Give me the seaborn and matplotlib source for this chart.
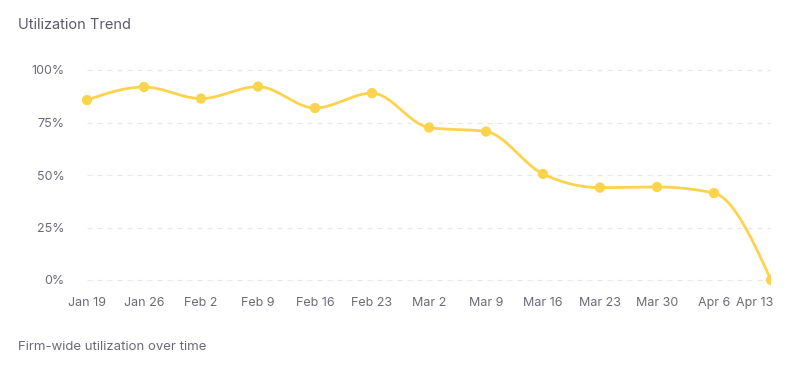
import numpy as np
import pandas as pd
import matplotlib
matplotlib.use("Agg")
import matplotlib.pyplot as plt
import matplotlib.transforms as mtrans
from matplotlib.patches import Rectangle
import seaborn as sns

weeks = ["Jan 19", "Jan 26", "Feb 2", "Feb 9", "Feb 16", "Feb 23", "Mar 2",
         "Mar 9", "Mar 16", "Mar 23", "Mar 30", "Apr 6", "Apr 13"]
utilization = [85.7, 91.9, 86.4, 92.1, 81.9, 89.0, 72.6, 70.7, 50.5, 44.0, 44.3, 41.4, 0.0]
y_ticks = [0, 25, 50, 75, 100]
y_tick_labels = ["0%", "25%", "50%", "75%", "100%"]

LINE = "#FCD34D"

sns.set_theme(style="white")
plt.rcParams["font.family"] = ["Inter", "DejaVu Sans"]


def monotone_curve(x, y, n=40):
    # d3 curveMonotoneX style tangents, used only to render the smooth line
    x = np.asarray(x, float); y = np.asarray(y, float)
    h = np.diff(x); s = np.diff(y) / h
    m = np.zeros_like(y)
    for i in range(1, len(y) - 1):
        p = (s[i - 1] * h[i] + s[i] * h[i - 1]) / (h[i - 1] + h[i])
        m[i] = (np.sign(s[i - 1]) + np.sign(s[i])) * min(abs(s[i - 1]), abs(s[i]), 0.5 * abs(p))
    m[0] = (3 * s[0] - m[1]) / 2
    m[-1] = (3 * s[-1] - m[-2]) / 2
    xs, ys = [], []
    for i in range(len(x) - 1):
        t = np.linspace(0, 1, n, endpoint=(i == len(x) - 2))
        h00 = 2 * t**3 - 3 * t**2 + 1
        h10 = t**3 - 2 * t**2 + t
        h01 = -2 * t**3 + 3 * t**2
        h11 = t**3 - t**2
        xs.append(x[i] + t * h[i])
        ys.append(h00 * y[i] + h10 * h[i] * m[i] + h01 * y[i + 1] + h11 * h[i] * m[i + 1])
    return np.concatenate(xs), np.concatenate(ys)


df = pd.DataFrame({"pos": np.arange(len(weeks)), "util": utilization})
cx, cy = monotone_curve(df["pos"], df["util"])
curve = pd.DataFrame({"pos": cx, "util": cy})

fig = plt.figure(figsize=(7.93, 3.76), dpi=100)
ax = fig.add_axes([87 / 793, 1 - 280 / 376, (771 - 87) / 793, 210 / 376])

for yt in y_ticks:
    ax.axhline(yt, color="#e8e8e8", lw=0.9, ls=(0, (4, 4)), zorder=0)

sns.lineplot(data=curve, x="pos", y="util", ax=ax, color=LINE, lw=2.0, zorder=2)
sns.scatterplot(data=df, x="pos", y="util", ax=ax, color=LINE, s=55,
                edgecolor="none", zorder=3)

clip = Rectangle((0, 0), 771 / 793, 1, transform=fig.transFigure, visible=False)
fig.add_artist(clip)
for coll in ax.collections:
    coll.set_clip_path(clip)
for ln in ax.lines:
    ln.set_clip_path(clip)

ax.set_xlim(0, len(weeks) - 1)
ax.set_ylim(0, 100)
ax.set_xticks(df["pos"])
ax.set_xticklabels(weeks)
ax.set_yticks(y_ticks)
ax.set_yticklabels(y_tick_labels)
ax.set_xlabel(""); ax.set_ylabel("")
ax.tick_params(axis="x", length=0, pad=12, labelsize=9, labelcolor="#6b6b78")
ax.tick_params(axis="y", length=0, pad=16, labelsize=9, labelcolor="#6b6b78")
xt = ax.get_xticklabels()
xt[-1].set_horizontalalignment("right")
xt[-1].set_transform(xt[-1].get_transform() + mtrans.ScaledTranslation(2 / 100, 0, fig.dpi_scale_trans))
for sp in ax.spines.values():
    sp.set_visible(False)
ax.grid(False)

fig.text(18 / 793, 1 - 25 / 376, "Utilization Trend", fontsize=10.5, color="#5a5a66",
         va="center", ha="left")
fig.text(18 / 793, 1 - 347 / 376, "Firm-wide utilization over time", fontsize=9.5,
         color="#6b6b78", va="center", ha="left")

fig.savefig("out.png", dpi=100)
